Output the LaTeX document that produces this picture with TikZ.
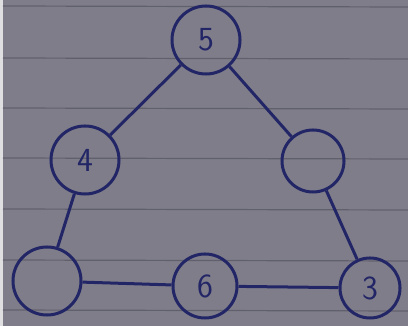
\documentclass[tikz,border=0pt]{standalone}
\usepackage{tikz}
\usetikzlibrary{calc}
\definecolor{paper}{RGB}{128,125,138}
\definecolor{ruling}{RGB}{96,96,108}
\definecolor{ink}{RGB}{34,38,102}
\tikzset{
  ball/.style={circle, draw=ink, line width=0.75mm, minimum size=1.7cm, inner sep=0pt,
    text=ink, font=\sffamily\fontsize{24}{24}\selectfont},
  stroke/.style={draw=ink, line width=0.75mm}
}
\begin{document}
\begin{tikzpicture}[x=0.025cm, y=-0.025cm]
			%%%%% START %%%%%
			
			\useasboundingbox (0, 0) rectangle (408, 326);
			\fill[paper] (0, 0) rectangle (408, 326);
			\fill[white!75!paper] (0, 0) rectangle (3, 326);
			
			\foreach \y in {6, 58, 108, 158, 209, 260, 310}
				\draw[ruling, line width=0.3mm] (3, \y) -- (408, \y+1);
			
			\node[ball] (top) at (206, 40) {5};
			\node[ball] (left) at (85, 160) {4};
			\node[ball, minimum size=1.55cm] (right) at (313, 161) {};
			
			\node[ball] (bl) at (47, 281) {};
			\node[ball, minimum size=1.6cm] (mid) at (205, 286) {6};
			\node[ball, minimum size=1.5cm] (br) at (370, 288) {3};
			
			\draw[stroke] (top) -- (left);
			\draw[stroke] (left) -- (bl);
			\draw[stroke] (top) -- (right);
			\draw[stroke] (right) -- (br);
			\draw[stroke] (bl) -- (mid);
			\draw[stroke] (mid) -- (br);
			
			%%%%% END %%%%%
\end{tikzpicture}
\end{document}
